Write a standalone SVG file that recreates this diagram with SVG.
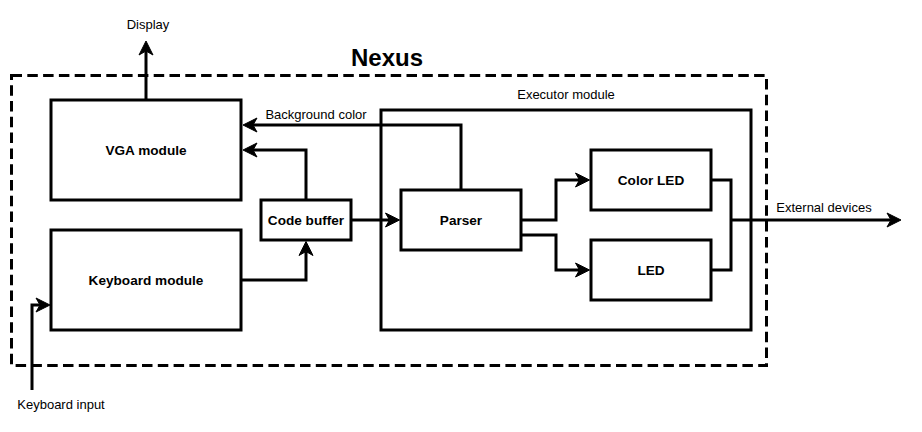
<svg xmlns="http://www.w3.org/2000/svg" width="922" height="432" viewBox="0 0 922 432">
<style>
.box{fill:#fff;stroke:#000;stroke-width:3}
.frame{fill:none;stroke:#000;stroke-width:3;stroke-dasharray:10.5 5.3}
.ln{fill:none;stroke:#000;stroke-width:3}
.arr{fill:none;stroke:#000;stroke-width:3;marker-end:url(#ah)}
.t{font-family:"Liberation Sans",Arial,sans-serif;font-size:13px;fill:#000;text-anchor:middle}
.b{font-family:"Liberation Sans",Arial,sans-serif;font-size:13.6px;font-weight:bold;fill:#000;text-anchor:middle}
.title{font-family:"Liberation Sans",Arial,sans-serif;font-size:24px;font-weight:bold;fill:#000;text-anchor:middle}
</style>
<defs>
<marker id="ah" markerUnits="userSpaceOnUse" markerWidth="16" markerHeight="16" viewBox="-1 -8 16 16" refX="4" refY="0" orient="auto">
<path d="M14,0 L0,-7 L4,0 L0,7 Z" fill="#000" stroke="#000" stroke-width="1"/>
</marker>
</defs>
<rect width="922" height="432" fill="#fff"/>
<g id="nexus">
<rect class="frame" x="11.5" y="75.5" width="755" height="290"/>
<text class="title" x="387" y="66">Nexus</text>
</g>
<g id="executor">
<rect class="box" x="381" y="110" width="370" height="220"/>
<text class="t" x="566" y="99">Executor module</text>
</g>
<g id="vga">
<rect class="box" x="51" y="100" width="190" height="100"/>
<text class="b" x="146" y="155">VGA module</text>
</g>
<g id="keyboard">
<rect class="box" x="51" y="230" width="190" height="100"/>
<text class="b" x="146" y="285">Keyboard module</text>
</g>
<g id="codebuffer">
<rect class="box" x="261" y="200" width="90" height="40"/>
<text class="b" x="306" y="225">Code buffer</text>
</g>
<g id="parser">
<rect class="box" x="401" y="190" width="120" height="60"/>
<text class="b" x="461" y="225">Parser</text>
</g>
<g id="colorled">
<rect class="box" x="591" y="150" width="120" height="60"/>
<text class="b" x="651" y="185">Color LED</text>
</g>
<g id="led">
<rect class="box" x="591" y="240" width="120" height="60"/>
<text class="b" x="651" y="275">LED</text>
</g>
<g id="connectors">
<path class="arr" d="M146,100 V51"/>
<text class="t" x="148" y="29">Display</text>
<path class="arr" d="M461,190 V125 H253"/>
<text class="t" x="316" y="119">Background color</text>
<path class="arr" d="M306,200 V150 H253"/>
<path class="arr" d="M241,280 H306 V251.5"/>
<path class="arr" d="M351,220 H389.5"/>
<path class="arr" d="M521,220 H556 V180 H579.5"/>
<path class="arr" d="M521,235 H556 V270 H579.5"/>
<path class="ln" d="M711,180 H731 V270 H711"/>
<path class="arr" d="M731,220 H891"/>
<text class="t" x="824" y="212">External devices</text>
<path class="arr" d="M32,390 V305 H40"/>
<text class="t" x="61" y="409">Keyboard input</text>
</g>
</svg>
